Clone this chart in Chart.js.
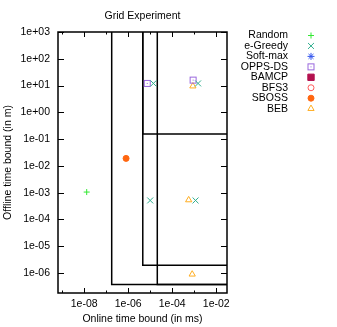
<!DOCTYPE html>
<html>
<head>
<meta charset="utf-8">
<script src="https://cdn.jsdelivr.net/npm/chart.js@4/dist/chart.umd.min.js"></script>
<style>
  body { margin: 0; background: #fff; }
</style>
</head>
<body>
<canvas id="grid" width="337" height="327"></canvas>
<script>
// axis ranges (log10 units)
const X_MIN = Math.pow(10, -9.19);
const X_MAX = Math.pow(10, -1.51);
const Y_MIN = Math.pow(10, -6.75);
const Y_MAX = 1e3;

const xTicks = [1e-9, 1e-8, 1e-7, 1e-6, 1e-5, 1e-4, 1e-3, 1e-2];
const yTicks = [1e-6, 1e-5, 1e-4, 1e-3, 1e-2, 1e-1, 1e0, 1e1, 1e2, 1e3];

// series
const random  = [{x: 1.3e-8, y: 1.05e-3}];
const eGreedy = [{x: 1.4e-5, y: 12}, {x: 1.5e-3, y: 12}, {x: 1.0e-5, y: 5.1e-4}, {x: 1.15e-3, y: 5.1e-4}];
const softMax = [];
const oppsDs  = [{x: 7.3e-6, y: 12}, {x: 8.9e-4, y: 16}];
const bamcp   = [];
const bfs3    = [];
const sboss   = [{x: 8e-7, y: 0.019}];
const beb     = [{x: 8.7e-4, y: 9.5}, {x: 5.6e-4, y: 5.3e-4}, {x: 8.1e-4, y: 8.9e-7}];

// bound boxes: lower-left corners, the boxes run to the top / right of the plot
const boxLeft   = [1.78e-7, 4.6e-6, 4.6e-6, 2.1e-5];
const boxBottom = [3.7e-7, 1.95e-6, 0.155, 3.7e-7];

const FONT = {family: "'Liberation Sans', Arial, sans-serif", size: 10.5};

function sci(v) {
  const e = Math.round(Math.log10(v));
  return "1e" + (e < 0 ? "-" : "+") + String(Math.abs(e)).padStart(2, "0");
}

function squareDot(color) {
  const c = document.createElement("canvas");
  c.width = 9; c.height = 9;
  const g = c.getContext("2d");
  g.strokeStyle = color;
  g.lineWidth = 1;
  g.strokeRect(1.5, 1.5, 6, 6);
  g.fillStyle = color;
  g.fillRect(4, 4, 1, 1);
  return c;
}

function serie(label, data, color, style, radius, filled) {
  return {
    label: label,
    data: data,
    pointStyle: style,
    pointRadius: radius,
    pointHoverRadius: radius,
    pointBorderWidth: 1,
    borderColor: color,
    backgroundColor: filled ? color : "rgba(0,0,0,0)",
    showLine: false,
  };
}

const datasets = [
  serie("Random", random, "#33e833", "cross", 3, false),
  serie("e-Greedy", eGreedy, "#2fae8e", "crossRot", 4.2, false),
  serie("Soft-max", softMax, "#3355ee", "star", 3.5, false),
  serie("OPPS-DS", oppsDs, "#9966dd", squareDot("#9966dd"), 4.5, false),
  serie("BAMCP", bamcp, "#b3114f", "rect", 4.5, true),
  serie("BFS3", bfs3, "#ff5a5a", "circle", 3, false),
  serie("SBOSS", sboss, "#ff6610", "circle", 3, true),
  serie("BEB", beb, "#ffad20", "triangle", 3.6, false),
];
const nSeries = datasets.length;

boxLeft.forEach((l, i) => {
  datasets.push({
    label: "box" + i,
    data: [{x: l, y: Y_MAX}, {x: l, y: boxBottom[i]}, {x: X_MAX, y: boxBottom[i]}],
    showLine: true,
    borderColor: "#000",
    borderWidth: 1.5,
    pointRadius: 0,
    fill: false,
  });
});

// frame with inward ticks on all 4 sides, title and legend
const framePlugin = {
  id: "frame",
  afterDatasetsDraw(chart) {
    const {ctx, chartArea: a, scales} = chart;
    ctx.save();
    ctx.strokeStyle = "#000";
    ctx.lineWidth = 1;
    ctx.beginPath();
    xTicks.forEach((v) => {
      const px = Math.round(scales.x.getPixelForValue(v)) + 0.5;
      const len = Math.round(Math.log10(v)) % 2 === 0 ? 5 : 2.5;
      ctx.moveTo(px, a.bottom); ctx.lineTo(px, a.bottom - len);
      ctx.moveTo(px, a.top); ctx.lineTo(px, a.top + len);
    });
    yTicks.forEach((v) => {
      const py = Math.round(scales.y.getPixelForValue(v)) + 0.5;
      ctx.moveTo(a.left, py); ctx.lineTo(a.left + 6, py);
      ctx.moveTo(a.right, py); ctx.lineTo(a.right - 6, py);
    });
    ctx.stroke();
    ctx.lineWidth = 1.5;
    ctx.strokeRect(a.left, a.top, a.right - a.left, a.bottom - a.top);

    ctx.fillStyle = "#000";
    ctx.font = FONT.size + "px " + FONT.family;
    ctx.textAlign = "center";
    ctx.textBaseline = "middle";
    ctx.fillText("Grid Experiment", (a.left + a.right) / 2, 16);

    // legend
    for (let i = 0; i < nSeries; i++) {
      const ds = chart.data.datasets[i];
      const y = 35.5 + i * 10.45;
      ctx.fillStyle = "#000";
      ctx.textAlign = "right";
      ctx.fillText(ds.label, 288, y);
      ctx.fillStyle = ds.backgroundColor;
      ctx.strokeStyle = ds.borderColor;
      ctx.lineWidth = 1;
      Chart.helpers.drawPoint(ctx, {
        pointStyle: ds.pointStyle,
        radius: ds.pointRadius,
        rotation: 0,
        borderWidth: 1,
      }, 311, y);
    }
    ctx.restore();
  },
};

new Chart(document.getElementById("grid"), {
  type: "scatter",
  data: {datasets: datasets},
  options: {
    responsive: false,
    animation: false,
    devicePixelRatio: 1,
    layout: {padding: {top: 32, right: 110, left: 0, bottom: 0}},
    plugins: {
      legend: {display: false},
      tooltip: {enabled: false},
    },
    scales: {
      x: {
        type: "logarithmic",
        min: X_MIN,
        max: X_MAX,
        grid: {display: false, drawTicks: false},
        border: {display: false},
        afterBuildTicks: (s) => { s.ticks = xTicks.map((v) => ({value: v})); },
        afterFit: (s) => { s.height = 34; },
        ticks: {
          autoSkip: false,
          maxRotation: 0,
          padding: 5,
          color: "#000",
          font: FONT,
          callback: (v) => (Math.round(Math.log10(v)) % 2 === 0 ? sci(v) : ""),
        },
        title: {
          display: true,
          text: "Online time bound (in ms)",
          color: "#000",
          font: FONT,
          padding: {top: 0, bottom: 2},
        },
      },
      y: {
        type: "logarithmic",
        min: Y_MIN,
        max: Y_MAX,
        grid: {display: false, drawTicks: false},
        border: {display: false},
        afterBuildTicks: (s) => { s.ticks = yTicks.map((v) => ({value: v})); },
        afterFit: (s) => { s.width = 58; },
        ticks: {
          autoSkip: false,
          padding: 8,
          color: "#000",
          font: FONT,
          callback: (v) => sci(v),
        },
        title: {
          display: true,
          text: "Offline time bound (in m)",
          color: "#000",
          font: FONT,
          padding: {top: 2, bottom: 0},
        },
      },
    },
  },
  plugins: [framePlugin],
});
</script>
</body>
</html>
